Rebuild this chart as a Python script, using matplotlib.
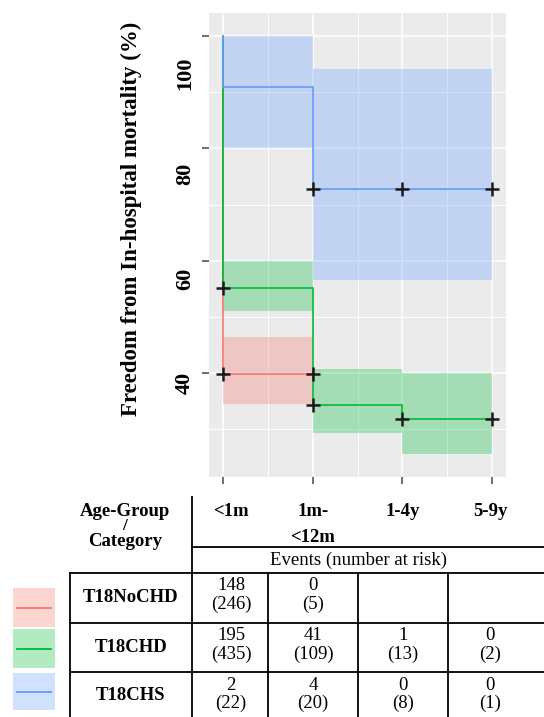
import numpy as np
import matplotlib
matplotlib.use("Agg")
import matplotlib.pyplot as plt
from matplotlib.patches import Rectangle
from matplotlib.transforms import ScaledTranslation

plt.rcParams["font.family"] = ["Liberation Serif", "DejaVu Serif"]

# data
groups = ["T18NoCHD", "T18CHD", "T18CHS"]
colors = ["#F8766D", "#00BA38", "#619CFF"]
age_labels = ["<1m", "1m-\n<12m", "1-4y", "5-9y"]

# survival estimate at the end of each age interval (x = 0,1,2,3)
surv_red = [39.8, 39.8]
surv_green = [55.2, 34.4, 31.8, 31.8]
surv_blue = [90.9, 72.7, 72.7, 72.7]

# confidence band per interval (lower, upper)
ci_low_red = [34.5, 34.5]
ci_up_red = [46.4, 46.4]
ci_low_green = [51.1, 29.4, 25.6, 25.6]
ci_up_green = [60.0, 40.7, 40.0, 40.0]
ci_low_blue = [80.0, 56.6, 56.6, 56.6]
ci_up_blue = [100.0, 94.1, 94.1, 94.1]

# censor marks
cens_x_red = [0, 1]
cens_x_green = [0, 1, 2, 3]
cens_x_blue = [1, 2, 3]

events = [[148, 0, None, None],
          [195, 41, 1, 0],
          [2, 4, 0, 0]]
at_risk = [[246, 5, None, None],
           [435, 109, 13, 2],
           [22, 20, 8, 1]]

W, H = 544, 717
fig = plt.figure(figsize=(W / 100, H / 100), dpi=100)

ax = fig.add_axes([209 / W, 1 - 477 / H, 297 / W, 464 / H])
ax.set_facecolor("#EBEBEB")
for s in ax.spines.values():
    s.set_visible(False)

series = [
    (surv_red, ci_low_red, ci_up_red, cens_x_red),
    (surv_green, ci_low_green, ci_up_green, cens_x_green),
    (surv_blue, ci_low_blue, ci_up_blue, cens_x_blue),
]

for (surv, lo, up, cx), col in zip(series, colors):
    x = np.arange(len(surv))
    if len(x) == 2:
        ax.fill_between([0, 1], lo, up, color=col, alpha=0.3, lw=0, zorder=1)
    else:
        ax.fill_between(x, lo, up, step="post", color=col, alpha=0.3, lw=0, zorder=1)

for (surv, lo, up, cx), col in zip(series, colors):
    x = np.arange(len(surv))
    xs = np.r_[0, x]
    ys = np.r_[100, surv]
    ax.step(xs, ys, where="post", color=col, lw=1.2, zorder=3)
    ax.plot(cx, [surv[i] for i in cx], ls="none", marker="+", ms=9.5,
            mew=1.8, color="#1a1a1a", zorder=4)

ax.set_xlim(-0.156, 3.156)
ax.set_ylim(21.5, 104.1)
ax.set_xticks([0, 1, 2, 3])
ax.set_xticks([0.5, 1.5, 2.5], minor=True)
ax.set_yticks([40, 60, 80, 100])
ax.set_yticks([30, 50, 70, 90], minor=True)
ax.grid(which="major", color="white", lw=1.1)
ax.grid(which="minor", color="white", lw=0.7)
ax.set_axisbelow(True)
ax.tick_params(which="major", length=5, width=1.2, color="#555555",
               labelbottom=False, labelleft=False)
ax.tick_params(which="minor", length=0)

# y tick labels, rotated, sitting a little below their ticks
offsets = [10, 18, 25, 37]
for v, off in zip([40, 60, 80, 100], offsets):
    tr = ax.get_yaxis_transform() + ScaledTranslation(0, -off / 100, fig.dpi_scale_trans)
    ax.text(-0.081, v, str(v), transform=tr, rotation=90, ha="center",
            va="center", fontsize=16, fontweight="bold")

ax.text(-0.26, 0.556, "Freedom from In-hospital mortality (%)",
        transform=ax.transAxes, rotation=90, ha="center", va="center",
        fontsize=16.5, fontweight="bold")

# table + legend area in pixel coordinates
tb = fig.add_axes([0, 0, 1, 237 / H])
tb.set_xlim(0, W)
tb.set_ylim(717, 480)
tb.axis("off")

lw = 1.3
tb.plot([192, 192], [497, 717], color="black", lw=lw)
tb.plot([192, 544], [547, 547], color="black", lw=lw)
tb.plot([70, 544], [573, 573], color="black", lw=lw)
tb.plot([70, 70], [573, 717], color="black", lw=lw)
for xv in [268, 358, 448]:
    tb.plot([xv, xv], [573, 717], color="black", lw=lw)
for yv in [623, 672]:
    tb.plot([70, 544], [yv, yv], color="black", lw=lw)

fs = 13.5
tb.text(125, 511, "Age-Group", ha="center", va="center", fontsize=fs, fontweight="bold")
tb.text(125, 526, "/", ha="center", va="center", fontsize=fs - 1, fontweight="bold")
tb.text(125, 541, "Category", ha="center", va="center", fontsize=fs, fontweight="bold")

col_x = [231, 313, 403, 490]
for cx_, lab in zip(col_x, age_labels):
    parts = lab.split("\n")
    for k, p in enumerate(parts):
        tb.text(cx_, 512 + 25 * k, p, ha="center", va="center", fontsize=fs,
                fontweight="bold")
tb.text(358, 560, "Events (number at risk)", ha="center", va="center", fontsize=fs)

row_top = [573, 623, 672]
for r, g in enumerate(groups):
    tb.text(131, row_top[r] + 24, g, ha="center", va="center", fontsize=fs,
            fontweight="bold")
    for c in range(4):
        if events[r][c] is None:
            continue
        tb.text(col_x[c], row_top[r] + 13, str(events[r][c]), ha="center",
                va="center", fontsize=fs)
        tb.text(col_x[c], row_top[r] + 31, "(%d)" % at_risk[r][c], ha="center",
                va="center", fontsize=fs)

# legend swatches
sw_top = [588, 629, 673]
sw_h = [39, 39, 37]
for t, h, col in zip(sw_top, sw_h, colors):
    tb.add_patch(Rectangle((13, t), 42, h, color=col, alpha=0.3, lw=0))
    tb.plot([17, 51], [t + h / 2, t + h / 2], color=col, lw=1.3)

fig.savefig("out.png", dpi=100)
